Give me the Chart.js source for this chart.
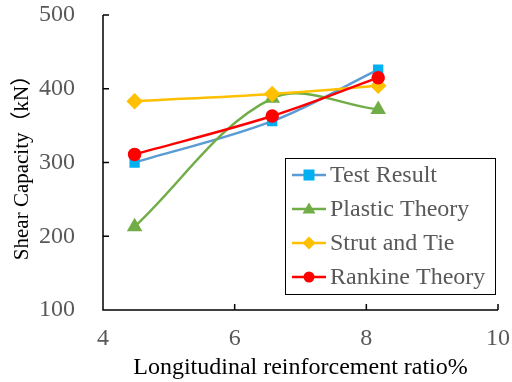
<!DOCTYPE html>
<html>
<head>
<meta charset="utf-8">
<script src="https://cdn.jsdelivr.net/npm/chart.js@4/dist/chart.umd.min.js"></script>
<style>
  html, body { margin: 0; padding: 0; background: #fff; }
  #wrap { width: 512px; height: 382px; }
</style>
</head>
<body>
<div id="wrap"><canvas id="chart" width="512" height="382"></canvas></div>
<script>
// data
var ratios = [4.48, 6.57, 8.18];
var testResult = [300, 356, 426];
var plasticTheory = [213, 387, 372];
var strutAndTie = [383, 393, 404];
var rankineTheory = [311, 363, 415];
var seriesNames = ['Test Result', 'Plastic Theory', 'Strut and Tie', 'Rankine Theory'];
var xTicks = [4, 6, 8, 10];
var yTicks = [100, 200, 300, 400, 500];

var serif = '"Liberation Serif", "Times New Roman", serif';

function pts(vals) {
  var out = [];
  for (var i = 0; i < vals.length; i++) out.push({x: ratios[i], y: vals[i]});
  return out;
}

var styles = [
  {line: '#5B9BD5', fill: '#00B0F0', shape: 'rect', r: 5.5, order: 4},
  {line: '#70AD47', fill: '#70AD47', shape: 'triangle', r: 6.5, order: 3},
  {line: '#FFC000', fill: '#FFC000', shape: 'rectRot', r: 6.5, order: 2},
  {line: '#FF0000', fill: '#FF0000', shape: 'circle', r: 5.5, order: 1}
];
var allVals = [testResult, plasticTheory, strutAndTie, rankineTheory];

var datasets = [];
for (var s = 0; s < allVals.length; s++) {
  datasets.push({
    label: seriesNames[s],
    data: pts(allVals[s]),
    borderColor: styles[s].line,
    backgroundColor: styles[s].fill,
    pointBackgroundColor: styles[s].fill,
    pointBorderColor: styles[s].fill,
    pointStyle: styles[s].shape,
    pointRadius: styles[s].r,
    borderWidth: 2.5,
    tension: 0.35,
    order: styles[s].order
  });
}

// ticks drawn inward, like the original
var innerTicks = {
  id: 'innerTicks',
  afterDraw: function(chart) {
    var ctx = chart.ctx, a = chart.chartArea;
    var xs = chart.scales.x, ys = chart.scales.y;
    ctx.save();
    ctx.strokeStyle = '#000';
    ctx.lineWidth = 1.5;
    ctx.beginPath();
    ctx.moveTo(a.left, a.top);
    ctx.lineTo(a.left, a.bottom);
    ctx.lineTo(a.right, a.bottom);
    for (var i = 0; i < yTicks.length; i++) {
      var py = ys.getPixelForValue(yTicks[i]);
      ctx.moveTo(a.left, py);
      ctx.lineTo(a.left + 6, py);
    }
    for (var j = 0; j < xTicks.length; j++) {
      var px = xs.getPixelForValue(xTicks[j]);
      ctx.moveTo(px, a.bottom);
      ctx.lineTo(px, a.bottom - 6);
    }
    ctx.stroke();
    ctx.restore();
  }
};

function marker(ctx, shape, x, y, r, color) {
  ctx.fillStyle = color;
  ctx.beginPath();
  if (shape == 'rect') {
    ctx.rect(x - r, y - r, 2 * r, 2 * r);
  } else if (shape == 'triangle') {
    ctx.moveTo(x, y - r);
    ctx.lineTo(x + r, y + r * 0.7);
    ctx.lineTo(x - r, y + r * 0.7);
    ctx.closePath();
  } else if (shape == 'rectRot') {
    ctx.moveTo(x, y - r);
    ctx.lineTo(x + r, y);
    ctx.lineTo(x, y + r);
    ctx.lineTo(x - r, y);
    ctx.closePath();
  } else {
    ctx.arc(x, y, r, 0, Math.PI * 2);
  }
  ctx.fill();
}

// boxed legend inside the plot, bottom right
var boxLegend = {
  id: 'boxLegend',
  afterDraw: function(chart) {
    var ctx = chart.ctx, a = chart.chartArea;
    var bx = a.right - 213, by = a.bottom - 152, bw = 210, bh = 136;
    ctx.save();
    ctx.fillStyle = '#fff';
    ctx.fillRect(bx, by, bw, bh);
    ctx.strokeStyle = '#000';
    ctx.lineWidth = 1;
    ctx.strokeRect(bx + 0.5, by + 0.5, bw, bh);
    ctx.font = '24px ' + serif;
    ctx.textBaseline = 'middle';
    for (var i = 0; i < seriesNames.length; i++) {
      var cy = by + 17 + i * 34;
      ctx.strokeStyle = styles[i].line;
      ctx.lineWidth = 2.5;
      ctx.beginPath();
      ctx.moveTo(bx + 7, cy);
      ctx.lineTo(bx + 41, cy);
      ctx.stroke();
      marker(ctx, styles[i].shape, bx + 24, cy, styles[i].r, styles[i].fill);
      ctx.fillStyle = '#595959';
      ctx.fillText(seriesNames[i], bx + 45, cy + 1);
    }
    ctx.restore();
  }
};

var config = {
  type: 'line',
  data: { datasets: datasets },
  options: {
    responsive: false,
    animation: false,
    layout: { padding: { top: 15, right: 14, left: 0, bottom: 0 } },
    plugins: { legend: { display: false }, tooltip: { enabled: false } },
    scales: {
      x: {
        type: 'linear',
        min: 4, max: 10,
        afterBuildTicks: function(sc) { sc.ticks = xTicks.map(function(v) { return {value: v}; }); },
        grid: { display: false },
        border: { display: false },
        ticks: { color: '#595959', font: { family: serif, size: 24 }, padding: 6, maxRotation: 0 },
        title: { display: true, text: 'Longitudinal reinforcement ratio%', color: '#000', font: { family: serif, size: 24 }, padding: { top: -7, bottom: 0 } },
        afterFit: function(sc) { sc.height = 72; sc.paddingLeft = 0; sc.paddingRight = 0; }
      },
      y: {
        min: 100, max: 500,
        afterBuildTicks: function(sc) { sc.ticks = yTicks.map(function(v) { return {value: v}; }); },
        grid: { display: false },
        border: { display: false },
        ticks: { color: '#595959', font: { family: serif, size: 24 }, padding: 20 },
        title: { display: true, text: 'Shear Capacity（kN）', color: '#000', font: { family: serif + ', "Noto Sans CJK SC"', size: 21 }, padding: { top: 10, bottom: 0 } },
        afterFit: function(sc) { sc.width = 103; sc.paddingTop = 0; sc.paddingBottom = 0; }
      }
    }
  },
  plugins: [innerTicks, boxLegend]
};

var ctx = document.getElementById('chart');
var myChart = new Chart(ctx, config);
</script>
</body>
</html>
